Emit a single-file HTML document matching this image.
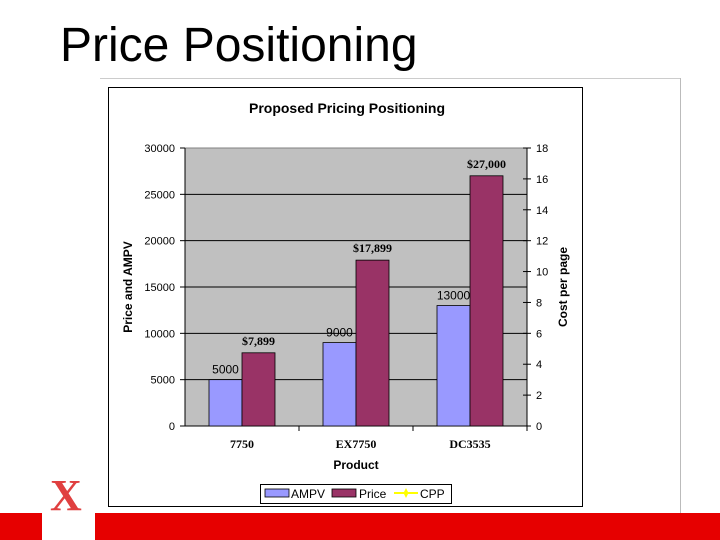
<!DOCTYPE html>
<html><head><meta charset="utf-8"><style>
body{margin:0;width:720px;height:540px;overflow:hidden;background:#fff;font-family:"Liberation Sans",sans-serif;position:relative}
</style></head><body>
<div style="position:absolute;left:60px;top:18px;font-size:48px;color:#000">Price Positioning</div>
<div style="position:absolute;left:100px;top:78px;width:580px;height:1px;background:#ccc"></div>
<div style="position:absolute;left:680px;top:78px;width:1px;height:435px;background:#bbb"></div>
<div style="position:absolute;left:0;top:513px;width:720px;height:27px;background:#e60000"></div>
<div style="position:absolute;left:42px;top:513px;width:53px;height:27px;background:#fff"></div>
<div style="position:absolute;left:50px;top:474px;font-family:'Liberation Serif',serif;font-weight:bold;font-size:44px;color:#e04040;line-height:1">X</div>
<svg width="720" height="540" style="position:absolute;left:0;top:0">
<rect x="108.5" y="87.5" width="474" height="419" fill="#fff" stroke="#000"/>
<g id="g"></g>
</svg>
<script>
const categories=["7750","EX7750","DC3535"];
const ampv=[5000,9000,13000];
const price=[7899,17899,27000];
const priceLabels=["$7,899","$17,899","$27,000"];
const leftTicks=[0,5000,10000,15000,20000,25000,30000];
const rightTicks=[0,2,4,6,8,10,12,14,16,18];
const NS="http://www.w3.org/2000/svg";
const g=document.getElementById('g');
const L=185,R=527,T=148,B=426;
const y=v=>B-(v/30000)*(B-T);
const y2=v=>B-(v/18)*(B-T);
const cw=(R-L)/categories.length;
function mk(t,a,txt){const e=document.createElementNS(NS,t);for(const k in a)e.setAttribute(k,a[k]);if(txt!==undefined)e.textContent=txt;g.appendChild(e);return e;}
let e;
e=mk('rect',{x:L,y:T,width:R-L,height:B-T,fill:'#c0c0c0',stroke:'#808080'});


leftTicks.forEach(v=>{
 if(v>0&&v<30000){e=mk('line',{x1:L,x2:R,y1:y(v),y2:y(v),stroke:'#000'});
 
 }
 mk('line',{x1:L-5,x2:L,y1:y(v),y2:y(v),stroke:'#000'});
 e=mk('text',{x:175,y:y(v)+4,'text-anchor':'end','font-size':11},v);
 
 
});
rightTicks.forEach(v=>{
 mk('line',{x1:R-4,x2:R+4,y1:y2(v),y2:y2(v),stroke:'#000'});
 e=mk('text',{x:536,y:y2(v)+4,'font-size':11},v);
 
 
});
mk('line',{x1:L,x2:L,y1:T,y2:B,stroke:'#000'});
mk('line',{x1:R,x2:R,y1:T,y2:B,stroke:'#000'});
mk('line',{x1:L,x2:R,y1:B,y2:B,stroke:'#000'});
categories.forEach((c,i)=>{
 const cx=L+cw*(i+0.5), bw=33;
 mk('line',{x1:L+cw*(i+1),x2:L+cw*(i+1),y1:B,y2:B+5,stroke:'#000'});
 e=mk('rect',{x:cx-bw,y:y(ampv[i]),width:bw,height:B-y(ampv[i]),fill:'#9999ff',stroke:'#000','stroke-width':0.8});
 
 
 e=mk('rect',{x:cx,y:y(price[i]),width:bw,height:B-y(price[i]),fill:'#993366',stroke:'#000','stroke-width':0.8});
 
 
 e=mk('text',{x:cx-bw/2,y:y(ampv[i])-6,'text-anchor':'middle','font-size':12},ampv[i]);
 
 
 e=mk('text',{x:cx+bw/2,y:y(price[i])-8,'text-anchor':'middle','font-size':12,'font-weight':'bold','font-family':'Liberation Serif,serif'},priceLabels[i]);
 
 
 e=mk('text',{x:cx,y:448,'text-anchor':'middle','font-size':12,'font-weight':'bold','font-family':'Liberation Serif,serif'},c);
 
 
});
e=mk('text',{x:347,y:113,'text-anchor':'middle','font-size':14,'font-weight':'bold'},'Proposed Pricing Positioning');


e=mk('text',{x:356,y:469,'text-anchor':'middle','font-size':12,'font-weight':'bold'},'Product');


e=mk('text',{x:0,y:0,'text-anchor':'middle','font-size':12,'font-weight':'bold',transform:'translate(132,287) rotate(-90)'},'Price and AMPV');


e=mk('text',{x:0,y:0,'text-anchor':'middle','font-size':12,'font-weight':'bold',transform:'translate(567,287) rotate(-90)'},'Cost per page');


e=mk('rect',{x:260.5,y:484.5,width:191,height:19,fill:'#fff',stroke:'#000'});


mk('rect',{x:265,y:489,width:24,height:8,fill:'#9999ff',stroke:'#000','stroke-width':0.8});
e=mk('text',{x:291,y:498,'font-size':12},'AMPV');


mk('rect',{x:332,y:489,width:24,height:8,fill:'#993366',stroke:'#000','stroke-width':0.8});
e=mk('text',{x:359,y:498,'font-size':12},'Price');


mk('line',{x1:394,x2:418,y1:493,y2:493,stroke:'#ffff00','stroke-width':2});
mk('polygon',{points:'406,488 408,492 412,493 408,494 406,498 404,494 400,493 404,492',fill:'#ffff00'});
e=mk('text',{x:420,y:498,'font-size':12},'CPP');


</script>
</body></html>
